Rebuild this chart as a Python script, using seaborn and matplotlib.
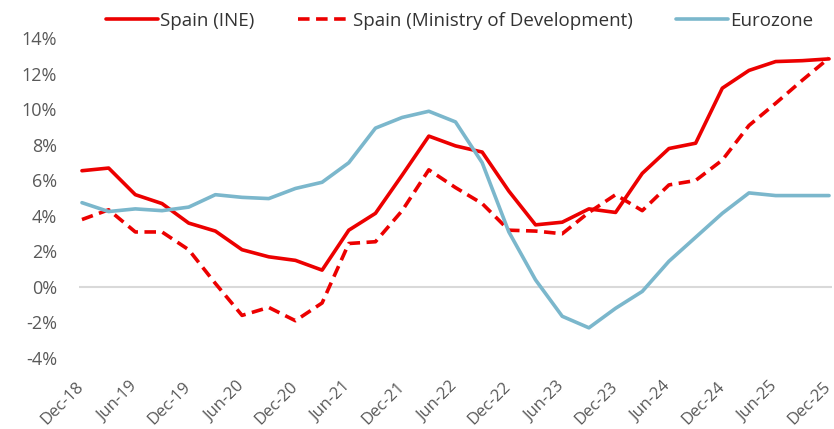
import numpy as np
import pandas as pd
import matplotlib
matplotlib.use("Agg")
import matplotlib.pyplot as plt
import matplotlib.transforms as mtransforms
import seaborn as sns
from matplotlib.lines import Line2D

# --- DATA (quarterly, Dec-18 .. Dec-25, % y/y) ---
quarters = ["Dec-18", "Mar-19", "Jun-19", "Sep-19", "Dec-19", "Mar-20", "Jun-20", "Sep-20",
            "Dec-20", "Mar-21", "Jun-21", "Sep-21", "Dec-21", "Mar-22", "Jun-22", "Sep-22",
            "Dec-22", "Mar-23", "Jun-23", "Sep-23", "Dec-23", "Mar-24", "Jun-24", "Sep-24",
            "Dec-24", "Mar-25", "Jun-25", "Sep-25", "Dec-25"]
spain_ine = [6.55, 6.7, 5.2, 4.7, 3.6, 3.15, 2.1, 1.7, 1.5, 0.95, 3.2, 4.15, 6.3, 8.5, 7.95,
             7.6, 5.4, 3.5, 3.65, 4.4, 4.2, 6.4, 7.8, 8.1, 11.2, 12.2, 12.7, 12.75, 12.85]
spain_ministry = [3.8, 4.35, 3.1, 3.1, 2.1, 0.2, -1.6, -1.15, -1.9, -0.9, 2.45, 2.55, 4.3, 6.6,
                  5.6, 4.7, 3.2, 3.15, 3.0, 4.2, 5.2, 4.3, 5.75, 6.0, 7.15, 9.1, 10.35, 11.65, 12.9]
eurozone = [4.75, 4.25, 4.4, 4.3, 4.5, 5.2, 5.05, 4.98, 5.55, 5.9, 7.0, 8.95, 9.55, 9.9, 9.3,
            7.0, 3.1, 0.4, -1.65, -2.3, -1.2, -0.25, 1.45, 2.8, 4.15, 5.3, 5.15, 5.15, 5.15]
series_names = ["Spain (INE)", "Spain (Ministry of Development)", "Eurozone"]
y_ticks = [-4, -2, 0, 2, 4, 6, 8, 10, 12, 14]

RED = "#EC0000"
BLUE = "#7BB7CC"
GREY = "#595959"
DASH = (3.2, 1.8)

# long table for seaborn
n = len(quarters)
df = pd.DataFrame({
    "idx": list(range(n)) * 3,
    "value": spain_ine + spain_ministry + eurozone,
    "series": [s for s in series_names for _ in range(n)],
})

sns.set_theme(style="white")
plt.rcParams["font.family"] = ["Open Sans", "DejaVu Sans"]

fig = plt.figure(figsize=(8.34, 4.29), dpi=100)
ax = fig.add_axes([79.3 / 834, (429 - 375.75) / 429, (831.7 - 79.3) / 834, (375.75 - 29.6) / 429])

ax.axhline(0, color="#D9D9D9", lw=1.5, zorder=1)

sns.lineplot(data=df, x="idx", y="value", hue="series", style="series",
             palette={series_names[0]: RED, series_names[1]: RED, series_names[2]: BLUE},
             dashes={series_names[0]: "", series_names[1]: DASH, series_names[2]: ""},
             linewidth=2.6, ax=ax, legend=False, zorder=3)
for ln in ax.get_lines()[1:]:
    ln.set_solid_joinstyle("round")
    ln.set_dash_capstyle("butt")
    ln.set_clip_on(False)

ax.set_xlim(-0.1, n - 1 + 0.1)
ax.set_ylim(-5, 14.5)
ax.set_xticks(range(0, n, 2))
ax.set_xticklabels(quarters[::2], rotation=45, ha="right", rotation_mode="anchor")
ax.set_yticks(y_ticks)
ax.set_yticklabels([f"{v}%" for v in y_ticks])
ax.tick_params(axis="both", length=0, colors=GREY)
ax.tick_params(axis="y", pad=16, labelsize=13)
ax.tick_params(axis="x", pad=2, labelsize=12)
ax.set_xlabel("")
ax.set_ylabel("")
for sp in ax.spines.values():
    sp.set_visible(False)

# nudge rotated date labels a little to the left so the last one fits
shift = mtransforms.ScaledTranslation(-6 / 100, 0, fig.dpi_scale_trans)
for lbl in ax.get_xticklabels():
    lbl.set_transform(lbl.get_transform() + shift)

# legend built from the drawn lines
handles = [
    Line2D([], [], color=RED, lw=2.6),
    Line2D([], [], color=RED, lw=2.6, dashes=DASH),
    Line2D([], [], color=BLUE, lw=2.6),
]
fig.legend(handles, series_names, loc="upper center", bbox_to_anchor=(0.551, 1.012), ncol=3,
           frameon=False, fontsize=13.5, handlelength=2.8, handletextpad=0.12,
           columnspacing=2.3, labelcolor="#333333")

fig.savefig("out.png", dpi=100)
